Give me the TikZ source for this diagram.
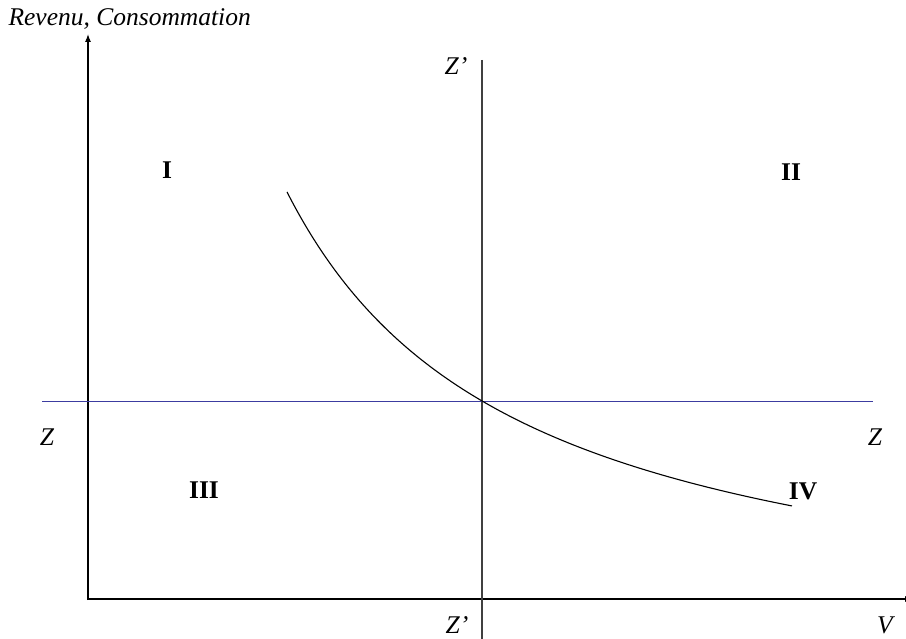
\documentclass[tikz,border=0pt]{standalone}
\usepackage{fontspec}
\setmainfont{Liberation Serif}
\usetikzlibrary{arrows.meta}
\definecolor{bleuaxe}{RGB}{60,60,160}

\begin{document}
\begin{tikzpicture}[x=1pt,y=-1pt,>={Latex[length=8pt,width=6pt]},
        lbl/.style={font=\fontsize{25.5}{29}\selectfont\itshape},
        quad/.style={font=\fontsize{25.5}{29}\selectfont\bfseries}]
        \clip (0,0) rectangle (906,639);
        % axes
        \draw[->,line width=1.1pt] (88,600) -- (88,34);
        \draw[->,line width=1.1pt] (88,599) -- (913,599);
        \draw[line width=1.1pt,black!75] (482,60) -- (482,645);
        \draw[line width=1pt,bleuaxe] (42,401) -- (873,401);
        % courbe
        \draw[line width=1.1pt] plot[domain=287:792,samples=120] (\x,{651-1070.96/((\x-53.7)/100)});
        % textes
        \node[lbl,anchor=west] (rc) at (5,19) {Revenu, Consommation};
        \node[lbl] (zh) at (456,66) {Z'};
        \node[lbl] (zg) at (47,437) {Z};
        \node[lbl] (zd) at (875,437) {Z};
        \node[lbl] (zb) at (457,625) {Z'};
        \node[lbl] (v) at (885,625) {V};
        \node[quad] (q1) at (167,170) {I};
        \node[quad] (q2) at (791,172) {II};
        \node[quad] (q3) at (204,490) {III};
        \node[quad] (q4) at (803,491) {IV};
    \end{tikzpicture}
\end{document}
